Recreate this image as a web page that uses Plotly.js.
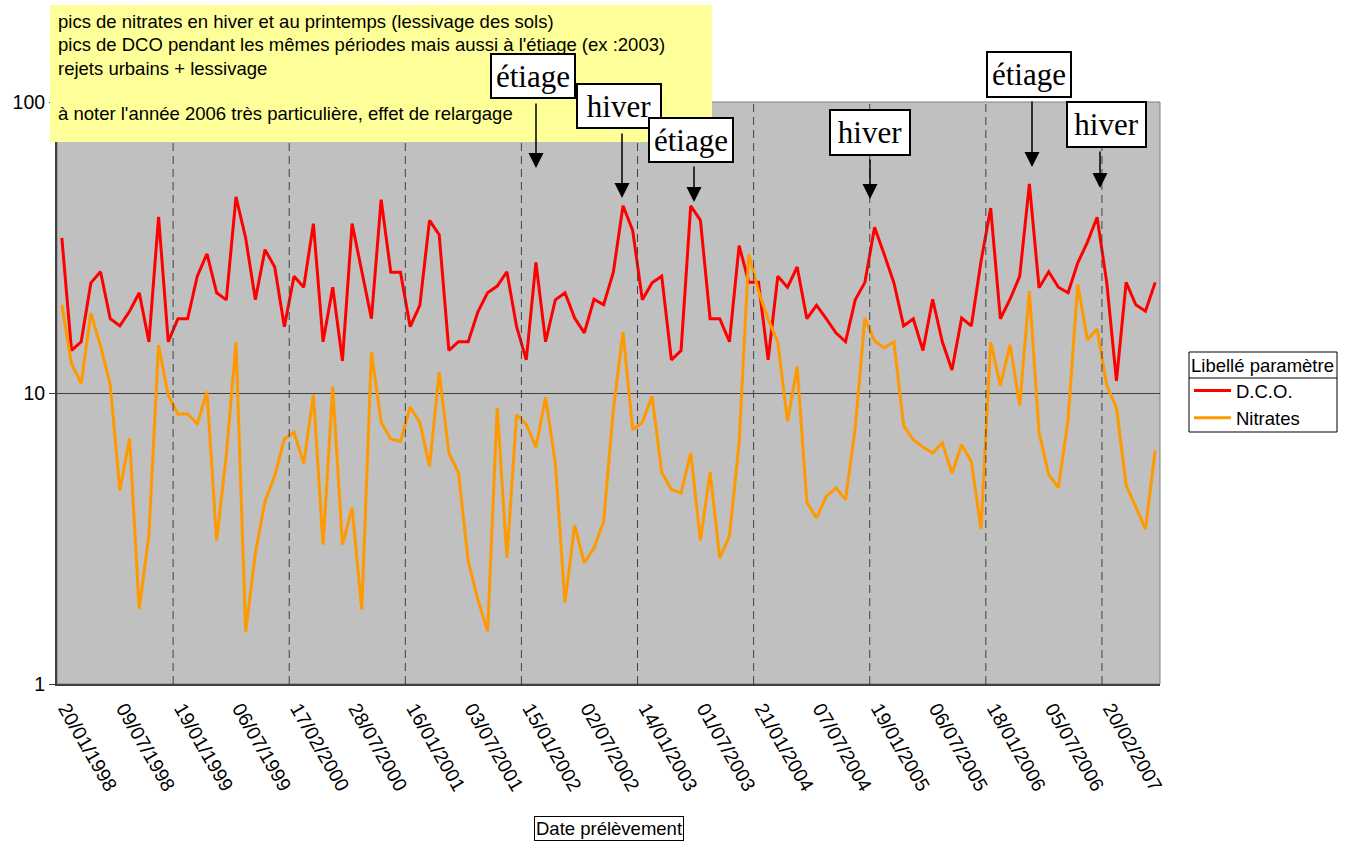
<!DOCTYPE html>
<html>
<head>
<meta charset="utf-8">
<script src="https://cdn.plot.ly/plotly-3.0.1.min.js"></script>
<style>
html,body{margin:0;padding:0;background:#ffffff;}
#chart{width:1351px;height:841px;}
</style>
</head>
<body>
<div id="chart"></div>
<script>
// ---------- DATA ----------
const tickLabels = [
  "20/01/1998","09/07/1998","19/01/1999","06/07/1999","17/02/2000","28/07/2000",
  "16/01/2001","03/07/2001","15/01/2002","02/07/2002","14/01/2003","01/07/2003",
  "21/01/2004","07/07/2004","19/01/2005","06/07/2005","18/01/2006","05/07/2006",
  "20/02/2007"
];

const dco = [
  34.1,14.0,15.0,23.9,26.1,18.0,17.0,19.1,22.1,15.0,40.3,15.0,
  18.0,18.0,25.2,30.1,22.1,20.9,47.2,34.1,20.9,31.1,27.1,16.9,
  25.2,23.1,38.2,15.0,23.1,12.9,38.2,25.9,18.0,46.2,26.0,26.0,
  16.9,20.0,39.2,35.0,14.0,15.0,15.0,19.0,22.1,23.3,26.1,16.9,
  13.0,28.1,15.0,20.9,22.1,18.1,16.1,21.0,20.1,26.0,44.0,36.2,
  20.9,23.9,25.2,13.0,14.0,44.0,39.2,18.0,18.0,15.0,32.1,24.0,
  24.0,13.0,25.2,23.1,27.1,18.0,20.0,18.0,16.1,15.0,20.9,24.0,
  37.1,29.9,23.9,17.0,18.0,14.0,21.0,15.0,12.0,18.1,17.0,28.3,
  43.2,18.0,21.0,25.2,52.3,23.0,26.1,23.1,22.1,28.0,33.0,40.2,
  23.9,11.0,24.0,20.1,19.1,24.0
];

const nitrates = [
  20.1,12.6,10.8,18.8,14.5,10.7,4.62,6.97,1.81,3.26,14.6,9.8,
  8.47,8.47,7.84,10.1,3.11,6.14,14.97,1.51,2.82,4.24,5.2,6.95,
  7.34,5.72,9.87,3.01,10.5,3.01,4.03,1.80,13.8,7.93,6.95,6.82,
  8.95,7.93,5.60,11.8,6.22,5.31,2.64,1.95,1.52,8.88,2.71,8.42,
  7.82,6.51,9.66,5.75,1.91,3.51,2.61,2.93,3.62,8.76,16.2,7.48,
  7.93,9.74,5.34,4.66,4.53,6.22,3.11,5.34,2.71,3.22,6.74,30.0,
  22.4,17.9,14.97,7.99,12.3,4.21,3.72,4.41,4.72,4.30,7.58,18.1,
  15.1,14.3,14.97,7.72,6.91,6.52,6.22,6.74,5.3,6.64,5.82,3.41,
  14.97,10.6,14.66,9.07,22.4,7.32,5.24,4.72,8.1,23.6,15.25,16.6,
  10.6,8.88,4.82,4.03,3.41,6.35
];

const seriesNames = ["D.C.O.", "Nitrates"];
const legendTitle = "Libellé paramètre";
const xAxisTitle = "Date prélèvement";
const noteLines = [
  "pics de nitrates en hiver et au printemps (lessivage des sols)",
  "pics de DCO pendant les mêmes périodes mais aussi à l'étiage (ex :2003)",
  "rejets urbains + lessivage",
  "à noter l'année 2006 très particulière, effet de relargage"
];

// ---------- DERIVED ----------
const sampleIndex = dco.map((_, i) => i);
const tickIndex = tickLabels.map((_, k) => k * 6);
const nYears = Math.floor(dco.length / 12);
const yearBounds = [];
for (let k = 1; k <= nYears; k++) { if (k * 12 - 0.5 < dco.length - 1) yearBounds.push(k * 12 - 0.5); }

// ---------- LAYOUT HELPERS (pixel -> paper) ----------
const W = 1351, H = 841, PL = 57, PR = 1160, PT = 102, PB = 684;
const px = x => (x - PL) / (PR - PL);
const py = y => (PB - y) / (PB - PT);

const SANS = "Liberation Sans, Arial, sans-serif";
const SERIF = "Liberation Serif, Times New Roman, serif";
const FS = 18.5;
const TFS = 19.5;

const callouts = [
  {text: "étiage", l: 490, t: 53, r: 576, b: 99,  ax: 536,  a0: 102, a1: 168},
  {text: "hiver",  l: 576, t: 83, r: 662, b: 129, ax: 622,  a0: 132, a1: 198},
  {text: "étiage", l: 648, t: 117, r: 734, b: 163, ax: 694, a0: 165, a1: 202},
  {text: "hiver",  l: 829, t: 109, r: 911, b: 156, ax: 870, a0: 158, a1: 199},
  {text: "étiage", l: 986, t: 51, r: 1072, b: 98, ax: 1032, a0: 100, a1: 167},
  {text: "hiver",  l: 1066, t: 101, r: 1147, b: 148, ax: 1100, a0: 150, a1: 188}
];

const annotations = [];
// note text box lines
const noteY = [21, 45, 68.5, 113];
noteLines.forEach((s, i) => {
  annotations.push({xref: "paper", yref: "paper", x: px(56), y: py(noteY[i]),
    xanchor: "left", yanchor: "middle", showarrow: false, text: s,
    font: {family: SANS, size: FS, color: "#000"}});
});
// callout boxes + arrows
callouts.forEach(c => {
  const bw = 2;
  annotations.push({xref: "paper", yref: "paper", x: px((c.l + c.r) / 2), y: py((c.t + c.b) / 2),
    xanchor: "center", yanchor: "middle", showarrow: false, text: c.text,
    width: c.r - c.l - 2 * bw, height: c.b - c.t - 2 * bw, borderpad: 0,
    bordercolor: "#000", borderwidth: bw, bgcolor: "#ffffff", align: "center", valign: "middle",
    font: {family: SERIF, size: 31, color: "#000"}});
});
callouts.forEach(c => {
  annotations.push({xref: "paper", yref: "paper", x: px(c.ax), y: py(c.a1),
    axref: "pixel", ayref: "pixel", ax: 0, ay: -(c.a1 - c.a0), text: "",
    showarrow: true, arrowhead: 2, arrowsize: 2, arrowwidth: 1.5, arrowcolor: "#000", standoff: 0});
});
// x axis title (boxed)
annotations.push({xref: "paper", yref: "paper", x: px(608.5), y: py(828), xanchor: "center", yanchor: "middle",
  showarrow: false, text: xAxisTitle, bordercolor: "#000", borderwidth: 1, borderpad: 1, bgcolor: "#fff",
  font: {family: SANS, size: FS, color: "#000"}});

const shapes = [];
// plot area border (top/right grey)
shapes.push({type: "rect", xref: "paper", yref: "paper", x0: 0, x1: 1, y0: 0, y1: 1,
  line: {color: "#808080", width: 1}, layer: "below"});
// yearly dashed dividers
yearBounds.forEach(v => {
  shapes.push({type: "line", xref: "x", yref: "paper", x0: v, x1: v, y0: 0, y1: 1,
    line: {color: "#404040", width: 1, dash: "8px,5px"}, layer: "above"});
});
// yellow note box
shapes.push({type: "rect", xref: "paper", yref: "paper", x0: px(50), x1: px(712), y0: py(142), y1: py(5),
  fillcolor: "#ffff99", line: {width: 0}, layer: "above"});
// legend frame and separator
shapes.push({type: "rect", xref: "paper", yref: "paper", x0: px(1189), x1: px(1337), y0: py(432), y1: py(352),
  fillcolor: "rgba(0,0,0,0)", line: {color: "#000", width: 1}});
shapes.push({type: "line", xref: "paper", yref: "paper", x0: px(1189), x1: px(1337), y0: py(378), y1: py(378),
  line: {color: "#000", width: 1}});

const traces = [
  {x: sampleIndex, y: dco, name: seriesNames[0], type: "scatter", mode: "lines",
   line: {color: "#ff0000", width: 3}},
  {x: sampleIndex, y: nitrates, name: seriesNames[1], type: "scatter", mode: "lines",
   line: {color: "#ff9900", width: 3}}
];

const layout = {
  width: W, height: H,
  margin: {l: PL, r: W - PR, t: PT, b: H - PB, pad: 0},
  paper_bgcolor: "#ffffff",
  plot_bgcolor: "#c0c0c0",
  font: {family: SANS, size: FS, color: "#000"},
  showlegend: true,
  legend: {
    x: px(1189), xanchor: "left", y: py(348), yanchor: "top",
    bgcolor: "rgba(0,0,0,0)", borderwidth: 0,
    title: {text: legendTitle, font: {family: SANS, size: FS, color: "#000"}},
    font: {family: SANS, size: FS, color: "#000"},
    itemwidth: 37, tracegroupgap: 0
  },
  xaxis: {
    range: [-0.5, dco.length - 0.5],
    tickmode: "array", tickvals: tickIndex, ticktext: tickLabels,
    tickangle: 60, ticks: "", showgrid: false, zeroline: false,
    ticklabelstandoff: 4, ticklabelshift: 4,
    showline: true, linecolor: "#404040", linewidth: 1.5,
    tickfont: {family: SANS, size: TFS, color: "#000"}
  },
  yaxis: {
    type: "log", range: [0, 2],
    tickmode: "array", tickvals: [1, 10, 100], ticktext: ["1", "10", "100"],
    ticks: "outside", ticklen: 6, tickcolor: "#404040", tickwidth: 1,
    showgrid: true, gridcolor: "#404040", gridwidth: 1, zeroline: false,
    showline: true, linecolor: "#404040", linewidth: 2,
    tickfont: {family: SANS, size: TFS, color: "#000"}
  },
  shapes: shapes,
  annotations: annotations
};

Plotly.newPlot("chart", traces, layout, {displayModeBar: false, responsive: false});
</script>
</body>
</html>
